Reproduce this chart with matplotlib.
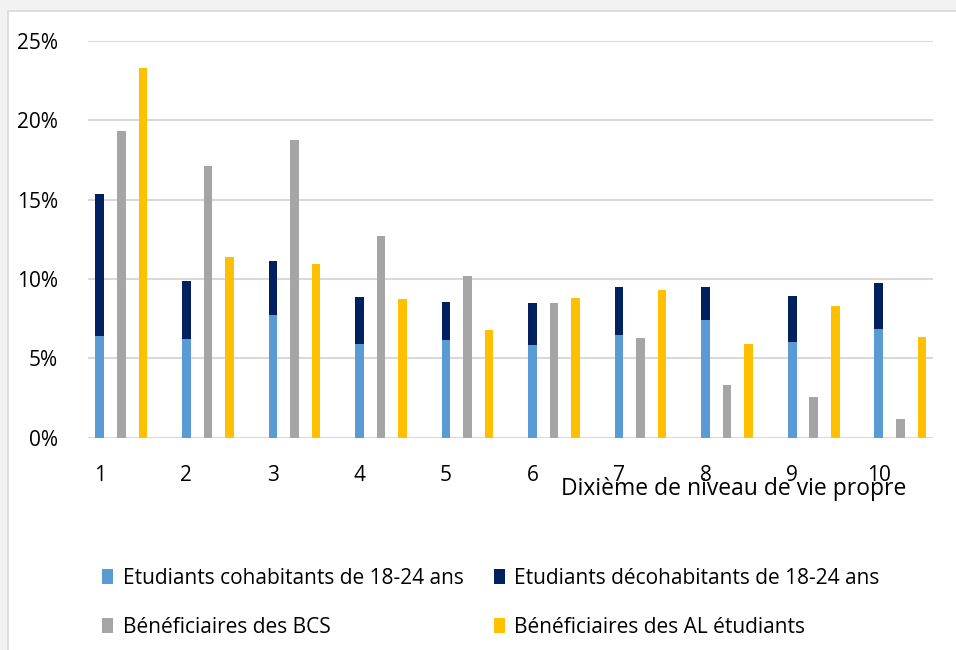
import numpy as np
import matplotlib.pyplot as plt
from matplotlib.patches import Rectangle, Patch
from matplotlib.ticker import FuncFormatter

plt.rcParams['font.family'] = ['Open Sans', 'DejaVu Sans']

# Data (share of each population by decile of own standard of living, %)
deciles = ['1', '2', '3', '4', '5', '6', '7', '8', '9', '10']
cohab = [6.41, 6.22, 7.74, 5.93, 6.16, 5.83, 6.48, 7.44, 6.01, 6.85]
decohab_total = [15.35, 9.86, 11.10, 8.83, 8.54, 8.49, 9.50, 9.46, 8.95, 9.75]
bcs = [19.3, 17.13, 18.73, 12.7, 10.2, 8.47, 6.27, 3.32, 2.55, 1.18]
al = [23.3, 11.41, 10.91, 8.73, 6.81, 8.79, 9.29, 5.91, 8.28, 6.35]

labels = ['Etudiants cohabitants de 18-24 ans',
          'Etudiants décohabitants de 18-24 ans',
          'Bénéficiaires des BCS',
          'Bénéficiaires des AL étudiants']
colors = ['#5b9bd5', '#002060', '#a5a5a5', '#ffc000']

decohab = np.array(decohab_total) - np.array(cohab)

fig = plt.figure(figsize=(9.56, 6.5), dpi=100)
fig.patch.set_facecolor('#f2f2f2')
# white chart area with thin border
fig.patches.append(Rectangle((7.5 / 956, -0.01), 1.0, (650 - 10.5) / 650 + 0.01,
                             transform=fig.transFigure, facecolor='white',
                             edgecolor='#d9d9d9', linewidth=1.2, zorder=-1))

ax = fig.add_axes([88.3 / 956, (650 - 437.7) / 650, (933 - 88.3) / 956, (437.7 - 40.7) / 650])
ax.set_zorder(1)
x = np.arange(len(deciles))
w = 0.1
ax.bar(x, cohab, w, color=colors[0], zorder=3)
ax.bar(x, decohab, w, bottom=cohab, color=colors[1], zorder=3)
ax.bar(x + 0.249, bcs, w, color=colors[2], zorder=3)
ax.bar(x + 0.498, al, w, color=colors[3], zorder=3)

ax.set_xlim(-0.132, 9.627)
ax.set_ylim(0, 25)
ax.set_yticks(np.arange(0, 26, 5))
ax.yaxis.set_major_formatter(FuncFormatter(lambda v, p: f'{v:.0f}%'))
ax.grid(axis='y', color='#d9d9d9', linewidth=1.5, zorder=0)
ax.set_xticks(x)
ax.set_xticklabels(deciles)
for s in ax.spines.values():
    s.set_visible(False)
ax.tick_params(axis='both', length=0, labelsize=15, colors='#000000')
ax.tick_params(axis='y', pad=22)
ax.tick_params(axis='x', pad=20)
ax.patch.set_alpha(0)

fig.text(734 / 956, (650 - 489) / 650, 'Dixième de niveau de vie propre',
         ha='center', va='center', fontsize=16.5)

order = [0, 2, 1, 3]
handles = [Patch(facecolor=colors[i]) for i in order]
leg = fig.legend(handles, [labels[i] for i in order], loc='center left', ncol=2,
                 bbox_to_anchor=(83 / 956, (650 - 603) / 650),
                 frameon=False, fontsize=15, handlelength=0.55, handleheight=0.7,
                 handletextpad=0.45, columnspacing=1.45, labelspacing=1.35)

fig.savefig('out.png', dpi=100, facecolor=fig.get_facecolor())
